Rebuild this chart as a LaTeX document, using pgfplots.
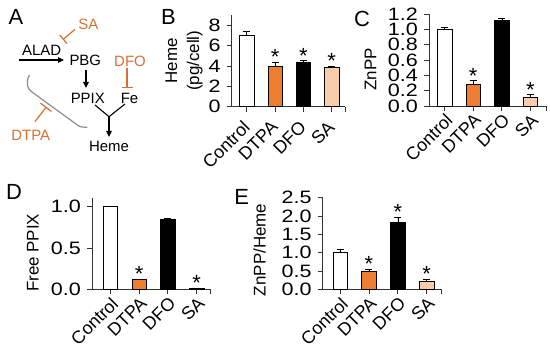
\documentclass[border=0pt]{standalone}
\usepackage{fontspec}
\setmainfont{Liberation Sans}
\newfontfamily\tickfam{Liberation Sans}[FakeStretch=1.2]
\usepackage{pgfplots}
\pgfplotsset{compat=1.18}
\usetikzlibrary{arrows.meta}
\definecolor{barorange}{RGB}{237,125,49}
\definecolor{barpeach}{RGB}{248,203,173}
\definecolor{diagorange}{RGB}{214,112,48}
\newcommand{\tickfont}{\fontsize{18}{18}\selectfont}
\newcommand{\ytickfont}{\tickfam\fontsize{18}{18}\selectfont}
\newcommand{\labfont}{\fontsize{17}{22}\selectfont}
\newcommand{\letfont}{\fontsize{22}{22}\selectfont}
\newcommand{\diafont}{\fontsize{15}{15}\selectfont}

\pgfplotsset{
  barax/.style={
    scale only axis, clip=false,
    anchor=south west,
    axis x line*=bottom, axis y line*=left,
    axis line style={black!80, line width=0.8bp, -},
    every tick/.style={black!80, line width=0.8bp},
    tick align=outside, major tick length=5bp,
    xtick={0,1,2,3}, xticklabels={Control,DTPA,DFO,SA},
    ymin=0,
    x tick label style={rotate=45, anchor=north east, font=\tickfont, inner sep=1bp},
    y tick label style={font=\ytickfont, inner sep=1bp, xshift=-5bp},
    ylabel style={font=\labfont, anchor=center, align=center},
    /pgf/number format/assume math mode=true,
  },
  mybar/.style={ybar, bar width=14.5bp, draw=black, line width=0.5bp, fill=#1,
    error bars/.cd, y dir=plus, y explicit,
    error bar style={black, line width=0.6bp},
    error mark options={rotate=90, mark size=3.5bp, black, line width=0.6bp}},
  star/.style={draw=none, mark=none, nodes near coords, point meta=explicit symbolic,
    nodes near coords style={font=\fontsize{22}{22}\selectfont, anchor=south, inner sep=0pt, yshift=-3bp}},
}

\begin{document}
\begin{tikzpicture}
\useasboundingbox (0,0) rectangle (550bp,352bp);

% ---------- Panel A (diagram) ----------
\begin{scope}[x=1bp,y=-1bp,yshift=352bp]
  \node[font=\letfont] at (16,17) {A};
  \node[font=\letfont] at (168.5,17) {B};
  \node[font=\letfont] at (362,19) {C};
  \node[font=\letfont] at (14,192) {D};
  \node[font=\letfont] at (241.7,196.7) {E};

  \node[font=\diafont] at (41.7,50) {ALAD};
  \draw[line width=1.1bp,-{Triangle[length=6bp,width=5.5bp]}] (19,60) -- (64,60);
  \node[font=\diafont] at (85.3,60) {PBG};
  \draw[line width=1.1bp,-{Triangle[length=6bp,width=5.5bp]}] (86,70) -- (86,88);
  \node[font=\diafont] at (87.8,98.3) {PPIX};
  \node[font=\diafont] at (129.5,98.3) {Fe};
  \draw[line width=1.1bp] (95,105) -- (109,116.7) -- (125,104);
  \draw[line width=1.1bp,-{Triangle[length=6bp,width=5.5bp]}] (109,116.7) -- (109,137);
  \node[font=\diafont] at (109,146.7) {Heme};

  \node[font=\diafont, text=diagorange] at (130,61.7) {DFO};
  \draw[diagorange, line width=1.2bp] (127,68.5) -- (127,87.3);
  \draw[diagorange, line width=1.2bp] (121.7,87.3) -- (132.7,87.3);

  \node[font=\diafont, text=diagorange] at (88.3,24) {SA};
  \draw[diagorange, line width=1.2bp] (75,29.3) -- (63.3,39.3);
  \draw[diagorange, line width=1.2bp] (59.7,35.1) -- (66.9,43.5);

  \draw[black!45, line width=1.2bp] (29.3,75) .. controls (26,83) and (26.5,88) .. (32,92) -- (76,124) .. controls (80,127) .. (87.3,127.3);
  \node[font=\diafont, text=diagorange] at (30.8,135.8) {DTPA};
  \draw[diagorange, line width=1.2bp] (35,121.7) -- (46,107.3);
  \draw[diagorange, line width=1.2bp] (40.5,103.1) -- (51.5,111.5);
\end{scope}

% ---------- Panel B ----------
\begin{axis}[barax, at={(231.7bp,245.3bp)}, width=113.3bp, height=91.7bp,
  xmin=-0.53, xmax=3.47, ymax=9, ytick={0,2,4,6,8},
  extra x ticks={3.47}, extra x tick labels={},
  x tick label style={xshift=-8bp, yshift=-1bp},
  ylabel={Heme\\(pg/cell)}, ylabel style={at={(axis description cs:-0.42,0.5)}}]
  \addplot[mybar=white] coordinates {(0,7.0) +- (0,0.4)};
  \addplot[mybar=barorange] coordinates {(1,4.0) +- (0,0.4)};
  \addplot[mybar=black] coordinates {(2,4.35) +- (0,0.2)};
  \addplot[mybar=barpeach] coordinates {(3,3.9) +- (0,0.1)};
  \addplot[star] coordinates {(1,4.4)[*] (2,4.55)[*] (3,4.0)[*]};
\end{axis}

% ---------- Panel C ----------
\begin{axis}[barax, at={(429bp,246bp)}, width=117bp, height=92bp,
  xmin=-0.545, xmax=3.545, ymax=1.2, ytick={0,0.2,0.4,0.6,0.8,1.0,1.2},
  yticklabel style={/pgf/number format/.cd, fixed, fixed zerofill, precision=1},
  extra x ticks={3.545}, extra x tick labels={},
  ylabel={ZnPP}, ylabel style={at={(axis description cs:-0.5,0.4)}}]
  \addplot[mybar=white] coordinates {(0,1.0) +- (0,0.03)};
  \addplot[mybar=barorange] coordinates {(1,0.28) +- (0,0.05)};
  \addplot[mybar=black] coordinates {(2,1.12) +- (0,0.02)};
  \addplot[mybar=barpeach] coordinates {(3,0.12) +- (0,0.03)};
  \addplot[star] coordinates {(1,0.33)[*] (3,0.15)[*]};
\end{axis}

% ---------- Panel D ----------
\begin{axis}[barax, at={(92bp,62.7bp)}, width=118bp, height=91bp,
  xmin=-0.63, xmax=3.46, ymax=1.1, ytick={0,0.5,1.0},
  yticklabel style={/pgf/number format/.cd, fixed, fixed zerofill, precision=1},
  extra x ticks={3.46}, extra x tick labels={},
  ylabel={Free PPIX}, ylabel style={at={(axis description cs:-0.5,0.4)}}]
  \addplot[mybar=white] coordinates {(0,1.0) +- (0,0.0)};
  \addplot[mybar=barorange] coordinates {(1,0.12) +- (0,0.005)};
  \addplot[mybar=black] coordinates {(2,0.85) +- (0,0.012)};
  \addplot[mybar=barpeach] coordinates {(3,0.01) +- (0,0.005)};
  \addplot[star] coordinates {(1,0.125)[*] (3,0.02)[*]};
\end{axis}

% ---------- Panel E ----------
\begin{axis}[barax, at={(322.7bp,62.7bp)}, width=119bp, height=91.6bp,
  xmin=-0.6, xmax=3.52, ymax=2.5, ytick={0,0.5,1.0,1.5,2.0,2.5},
  yticklabel style={/pgf/number format/.cd, fixed, fixed zerofill, precision=1},
  extra x ticks={3.52}, extra x tick labels={},
  ylabel={ZnPP/Heme}, ylabel style={at={(axis description cs:-0.53,0.43)}}]
  \addplot[mybar=white] coordinates {(0,1.0) +- (0,0.08)};
  \addplot[mybar=barorange] coordinates {(1,0.5) +- (0,0.05)};
  \addplot[mybar=black] coordinates {(2,1.83) +- (0,0.14)};
  \addplot[mybar=barpeach] coordinates {(3,0.22) +- (0,0.06)};
  \addplot[star] coordinates {(1,0.55)[*] (2,1.97)[*] (3,0.28)[*]};
\end{axis}
\end{tikzpicture}
\end{document}
